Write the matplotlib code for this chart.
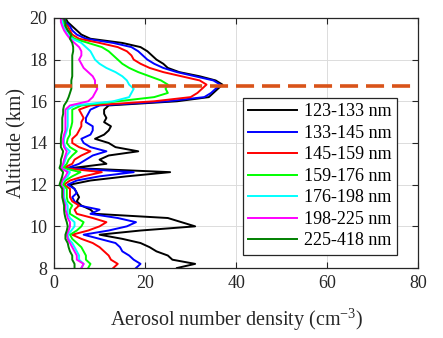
import numpy as np
import matplotlib
matplotlib.use('Agg')
import matplotlib.pyplot as plt

plt.rcParams['font.family'] = ['Liberation Serif', 'DejaVu Serif']
plt.rcParams['mathtext.fontset'] = 'custom'
plt.rcParams['mathtext.rm'] = 'Liberation Serif'
plt.rcParams['mathtext.it'] = 'Liberation Serif:italic'

# altitude grid (km), 8 to 20 in 0.2 steps
alt = np.round(np.arange(8.0, 20.01, 0.2), 1)

n123_133 = [27, 31, 26, 25, 22.5, 21, 19, 15, 10, 19,
            31, 28, 25, 9, 8, 6, 5, 5.5, 5, 4.5,
            3.5, 8, 16, 25.5, 4, 11.5, 10, 12, 18.5, 13.5,
            12, 9, 11, 12, 12.5, 11, 11.5, 11, 11, 12,
            27, 34, 35, 36, 37, 35.5, 32, 27.5, 25, 24,
            22.5, 21.5, 20.5, 19, 15, 8, 6, 5, 4, 3, 2.5]
n133_145 = [18, 19, 17.5, 16.5, 15, 14.5, 13.5, 10, 6.5, 12,
            16, 18, 14, 8, 10, 5.5, 4.5, 4, 5, 4.5,
            3, 5, 10, 17.5, 3, 5.5, 7, 8.5, 11.5, 8,
            6.5, 6, 8, 8.5, 8.5, 7, 7, 7.5, 8, 10,
            25, 33, 34.5, 35.5, 36.5, 35, 31, 27, 24, 22,
            20.5, 19.5, 18.5, 17, 13, 7, 5, 4, 3.5, 2.5, 2]
n145_159 = [13, 14, 12.5, 12, 11, 10, 8.5, 6, 4, 7.5,
            10, 11.5, 8.5, 5, 4.5, 5.5, 4, 3.5, 3.5, 3.5,
            2.2, 3.5, 6.5, 10.5, 2, 4, 4.5, 6, 8, 5.5,
            4, 4, 5, 5.5, 6, 6, 6.5, 6, 5.5, 8,
            22, 30, 31.5, 32.5, 33.5, 32, 28, 24, 21, 19,
            17.5, 17, 16, 14, 10, 5.5, 4, 3.5, 3, 2, 1.8]
n159_176 = [7.5, 8, 7, 7, 6.5, 6, 5, 4, 3.5, 5,
            6, 6.5, 5, 3.5, 3.5, 4, 3, 2.8, 2.8, 2.8,
            2, 2.5, 4, 5.8, 2, 2.8, 3.2, 4, 5, 3.5,
            2.8, 3, 3.5, 3.5, 3.8, 4, 4, 4, 4, 6,
            14, 22, 25, 24.5, 25, 23.5, 21, 18.5, 16.5, 15,
            14, 13, 12, 10.5, 7.5, 4.5, 3.5, 3, 2.5, 2, 1.5]
n176_198 = [6, 6.5, 5.5, 5.5, 5, 4.5, 4, 3.2, 3, 3.8,
            4.5, 4.5, 3.5, 3, 3, 3, 2.5, 2.2, 2.2, 2.2,
            1.5, 2, 3, 3.5, 1.5, 2.2, 2.5, 2.8, 3.5, 2.5,
            2.2, 2.2, 2.5, 2.8, 3, 3, 3, 3, 3, 4.5,
            13, 16.5, 17, 17.5, 16.5, 16, 15, 13.5, 11.5, 10,
            9, 8.5, 8, 7, 6, 4, 3, 2.5, 2, 1.8, 1.5]
n198_225 = [6, 6.5, 5, 5, 4.5, 4, 3.5, 3, 2.8, 3.2,
            3.5, 3.5, 3, 2.8, 2.5, 2.5, 2.2, 2, 2, 2,
            1.5, 1.8, 2.5, 3, 1.5, 2, 2.2, 2.5, 2.8, 2.2,
            2, 2, 2.2, 2.5, 2.5, 2.5, 2.5, 2.5, 2.5, 3.5,
            7.5, 8.5, 9, 9.5, 9, 9, 8.5, 7.5, 6.5, 6,
            5.5, 6, 6, 5.5, 4.5, 3.5, 2.8, 2.2, 1.8, 1.5, 1.5]
n225_418 = [4.5, 4.5, 4, 4, 3.5, 3.2, 3, 2.5, 2.5, 2.8,
            3, 2.8, 2.5, 2.3, 2.2, 2.2, 2, 1.8, 1.8, 1.8,
            1.2, 1.5, 1.8, 2, 1.2, 1.5, 1.5, 1.8, 2, 1.5,
            1.5, 1.5, 1.6, 1.8, 1.8, 1.8, 1.8, 2, 2, 2.2,
            2.8, 3.2, 3.5, 3.8, 3.8, 3.8, 4, 4, 4, 4,
            4, 4, 4.2, 4.2, 4, 3.5, 3.8, 3, 2.5, 2.5, 2.5]

series = [n123_133, n133_145, n145_159, n159_176, n176_198, n198_225, n225_418]
labels = ['123-133 nm', '133-145 nm', '145-159 nm', '159-176 nm',
          '176-198 nm', '198-225 nm', '225-418 nm']
colors = ['k', (0, 0, 1), (1, 0, 0), (0, 1, 0), (0, 1, 1), (1, 0, 1), (0, 0.5, 0)]
tropopause = 16.75

fig = plt.figure(figsize=(4.43, 3.38), dpi=100)
ax = fig.add_axes([0.122, 0.207, 0.822, 0.740])

for s, lab, c in zip(series, labels, colors):
    ax.plot(s, alt, color=c, lw=1.4, label=lab)
ax.axhline(tropopause, color='#D95319', lw=2.6, dashes=(5, 2.2))

ax.set_xlim(0, 80)
ax.set_ylim(8, 20)
ax.set_xticks([0, 20, 40, 60, 80])
ax.set_yticks([8, 10, 12, 14, 16, 18, 20])
ax.grid(True, color='#dcdcdc', lw=0.7)
ax.set_axisbelow(True)
ax.tick_params(direction='in', top=True, right=True, length=4, labelsize=13,
               colors='#262626', pad=5)
for sp in ax.spines.values():
    sp.set_color('#262626')
    sp.set_linewidth(0.9)

ax.set_xlabel(r'Aerosol number density (cm$^{-3}$)', fontsize=14.5, color='#262626',
              labelpad=11)
ax.set_ylabel('Altitude (km)', fontsize=14.5, color='#262626', labelpad=2)

leg = ax.legend(loc='upper left', bbox_to_anchor=(0.519, 0.68), fontsize=13,
                frameon=True, fancybox=False, framealpha=1, edgecolor='#262626',
                handlelength=2.7, handletextpad=0.35, labelspacing=0.25,
                borderpad=0.3, borderaxespad=0)
leg.get_frame().set_linewidth(0.9)

fig.savefig('out.png', dpi=100)
